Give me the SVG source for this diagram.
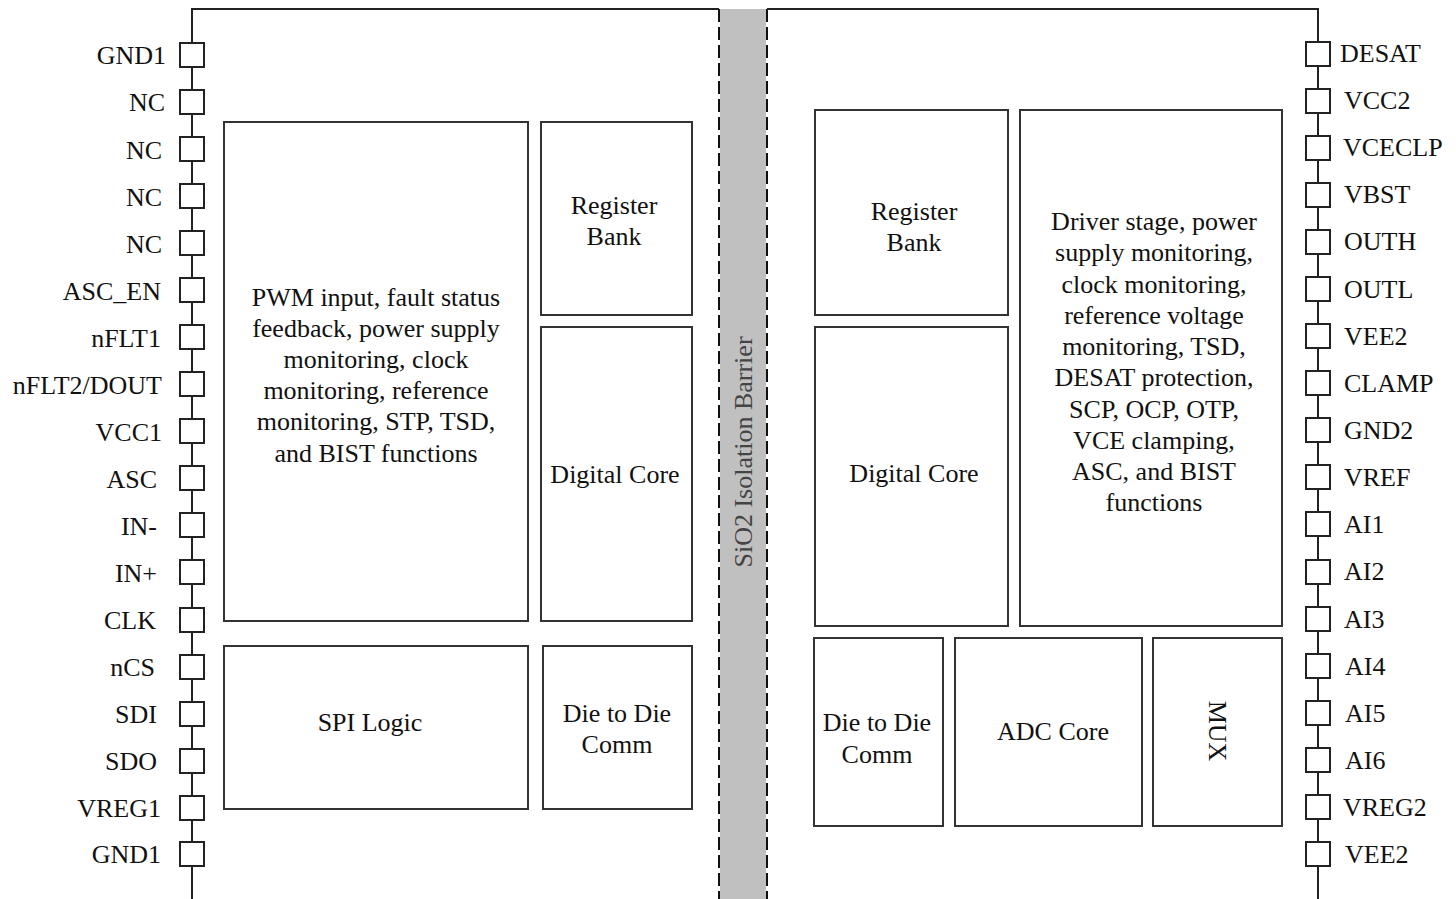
<svg xmlns="http://www.w3.org/2000/svg" width="1456" height="899" viewBox="0 0 1456 899">
<style>
.ln{stroke:#222;stroke-width:2;fill:none}
.pin{stroke:#222;stroke-width:2;fill:#fff}
.blk{stroke:#333;stroke-width:2;fill:#fff}
.t{font-family:"Liberation Serif","Times New Roman",serif;font-size:26px;fill:#111}
.c{text-anchor:middle}
.e{text-anchor:end}
.dash{stroke:#111;stroke-width:2;stroke-dasharray:13,5;fill:none}
</style>
<rect width="1456" height="899" fill="#fff"/>
<g id="barrier">
<rect x="720" y="9" width="46" height="890" fill="#c0c0c0"/>
<line class="dash" x1="719" y1="9" x2="719" y2="899"/>
<line class="dash" x1="767" y1="9" x2="767" y2="899"/>
<text class="t c" transform="translate(752,452) rotate(-90)" style="fill:#444">SiO2 Isolation Barrier</text>
</g>
<g id="connectors">
<path class="ln" d="M719 9 H192 V899"/>
<path class="ln" d="M767 9 H1318 V899"/>
</g>
<g id="left-pins">
<rect class="pin" x="180" y="43" width="24" height="24"/>
<rect class="pin" x="180" y="90" width="24" height="24"/>
<rect class="pin" x="180" y="137" width="24" height="24"/>
<rect class="pin" x="180" y="184" width="24" height="24"/>
<rect class="pin" x="180" y="231" width="24" height="24"/>
<rect class="pin" x="180" y="278" width="24" height="24"/>
<rect class="pin" x="180" y="325" width="24" height="24"/>
<rect class="pin" x="180" y="372" width="24" height="24"/>
<rect class="pin" x="180" y="419" width="24" height="24"/>
<rect class="pin" x="180" y="466" width="24" height="24"/>
<rect class="pin" x="180" y="513" width="24" height="24"/>
<rect class="pin" x="180" y="560" width="24" height="24"/>
<rect class="pin" x="180" y="608" width="24" height="24"/>
<rect class="pin" x="180" y="655" width="24" height="24"/>
<rect class="pin" x="180" y="702" width="24" height="24"/>
<rect class="pin" x="180" y="749" width="24" height="24"/>
<rect class="pin" x="180" y="796" width="24" height="24"/>
<rect class="pin" x="180" y="842" width="24" height="24"/>
<text class="t e" x="166" y="64">GND1</text>
<text class="t e" x="165" y="111">NC</text>
<text class="t e" x="162" y="159">NC</text>
<text class="t e" x="162" y="206">NC</text>
<text class="t e" x="162" y="253">NC</text>
<text class="t e" x="161" y="300">ASC_EN</text>
<text class="t e" x="161" y="347">nFLT1</text>
<text class="t e" x="162" y="394">nFLT2/DOUT</text>
<text class="t e" x="162" y="441">VCC1</text>
<text class="t e" x="157" y="488">ASC</text>
<text class="t e" x="157" y="535">IN-</text>
<text class="t e" x="157" y="582">IN+</text>
<text class="t e" x="156" y="629">CLK</text>
<text class="t e" x="155" y="676">nCS</text>
<text class="t e" x="157" y="723">SDI</text>
<text class="t e" x="157" y="770">SDO</text>
<text class="t e" x="161" y="817">VREG1</text>
<text class="t e" x="161" y="863">GND1</text>
</g>
<g id="right-pins">
<rect class="pin" x="1306" y="42" width="24" height="24"/>
<rect class="pin" x="1306" y="89" width="24" height="24"/>
<rect class="pin" x="1306" y="136" width="24" height="24"/>
<rect class="pin" x="1306" y="183" width="24" height="24"/>
<rect class="pin" x="1306" y="230" width="24" height="24"/>
<rect class="pin" x="1306" y="277" width="24" height="24"/>
<rect class="pin" x="1306" y="324" width="24" height="24"/>
<rect class="pin" x="1306" y="371" width="24" height="24"/>
<rect class="pin" x="1306" y="418" width="24" height="24"/>
<rect class="pin" x="1306" y="465" width="24" height="24"/>
<rect class="pin" x="1306" y="512" width="24" height="24"/>
<rect class="pin" x="1306" y="560" width="24" height="24"/>
<rect class="pin" x="1306" y="607" width="24" height="24"/>
<rect class="pin" x="1306" y="654" width="24" height="24"/>
<rect class="pin" x="1306" y="701" width="24" height="24"/>
<rect class="pin" x="1306" y="748" width="24" height="24"/>
<rect class="pin" x="1306" y="795" width="24" height="24"/>
<rect class="pin" x="1306" y="842" width="24" height="24"/>
<text class="t" x="1340" y="62">DESAT</text>
<text class="t" x="1344" y="109">VCC2</text>
<text class="t" x="1343" y="156">VCECLP</text>
<text class="t" x="1344" y="203">VBST</text>
<text class="t" x="1344" y="250">OUTH</text>
<text class="t" x="1344" y="298">OUTL</text>
<text class="t" x="1344" y="345">VEE2</text>
<text class="t" x="1344" y="392">CLAMP</text>
<text class="t" x="1344" y="439">GND2</text>
<text class="t" x="1344" y="486">VREF</text>
<text class="t" x="1344" y="533">AI1</text>
<text class="t" x="1344" y="580">AI2</text>
<text class="t" x="1344" y="628">AI3</text>
<text class="t" x="1345" y="675">AI4</text>
<text class="t" x="1345" y="722">AI5</text>
<text class="t" x="1345" y="769">AI6</text>
<text class="t" x="1343" y="816">VREG2</text>
<text class="t" x="1345" y="863">VEE2</text>
</g>
<g id="left-main">
<rect class="blk" x="224" y="122" width="304" height="499"/>
<text class="t c" x="376" y="306">PWM input, fault status</text>
<text class="t c" x="376" y="337">feedback, power supply</text>
<text class="t c" x="376" y="368">monitoring, clock</text>
<text class="t c" x="376" y="399">monitoring, reference</text>
<text class="t c" x="376" y="430">monitoring, STP, TSD,</text>
<text class="t c" x="376" y="462">and BIST functions</text>
</g>
<g id="left-register-bank">
<rect class="blk" x="541" y="122" width="151" height="193"/>
<text class="t c" x="614" y="214">Register</text>
<text class="t c" x="614" y="245">Bank</text>
</g>
<g id="left-digital-core">
<rect class="blk" x="541" y="327" width="151" height="294"/>
<text class="t c" x="615" y="483">Digital Core</text>
</g>
<g id="spi-logic">
<rect class="blk" x="224" y="646" width="304" height="163"/>
<text class="t c" x="370" y="731">SPI Logic</text>
</g>
<g id="left-d2d">
<rect class="blk" x="543" y="646" width="149" height="163"/>
<text class="t c" x="617" y="722">Die to Die</text>
<text class="t c" x="617" y="753">Comm</text>
</g>
<g id="right-register-bank">
<rect class="blk" x="815" y="110" width="193" height="205"/>
<text class="t c" x="914" y="220">Register</text>
<text class="t c" x="914" y="251">Bank</text>
</g>
<g id="driver-stage">
<rect class="blk" x="1020" y="110" width="262" height="516"/>
<text class="t c" x="1154" y="230">Driver stage, power</text>
<text class="t c" x="1154" y="261">supply monitoring,</text>
<text class="t c" x="1154" y="293">clock monitoring,</text>
<text class="t c" x="1154" y="324">reference voltage</text>
<text class="t c" x="1154" y="355">monitoring, TSD,</text>
<text class="t c" x="1154" y="386">DESAT protection,</text>
<text class="t c" x="1154" y="418">SCP, OCP, OTP,</text>
<text class="t c" x="1154" y="449">VCE clamping,</text>
<text class="t c" x="1154" y="480">ASC, and BIST</text>
<text class="t c" x="1154" y="511">functions</text>
</g>
<g id="right-digital-core">
<rect class="blk" x="815" y="327" width="193" height="299"/>
<text class="t c" x="914" y="482">Digital Core</text>
</g>
<g id="right-d2d">
<rect class="blk" x="814" y="638" width="129" height="188"/>
<text class="t c" x="877" y="731">Die to Die</text>
<text class="t c" x="877" y="763">Comm</text>
</g>
<g id="adc-core">
<rect class="blk" x="955" y="638" width="187" height="188"/>
<text class="t c" x="1053" y="740">ADC Core</text>
</g>
<g id="mux">
<rect class="blk" x="1153" y="638" width="129" height="188"/>
<text class="t c" transform="translate(1209,731) rotate(90)">MUX</text>
</g>
</svg>
